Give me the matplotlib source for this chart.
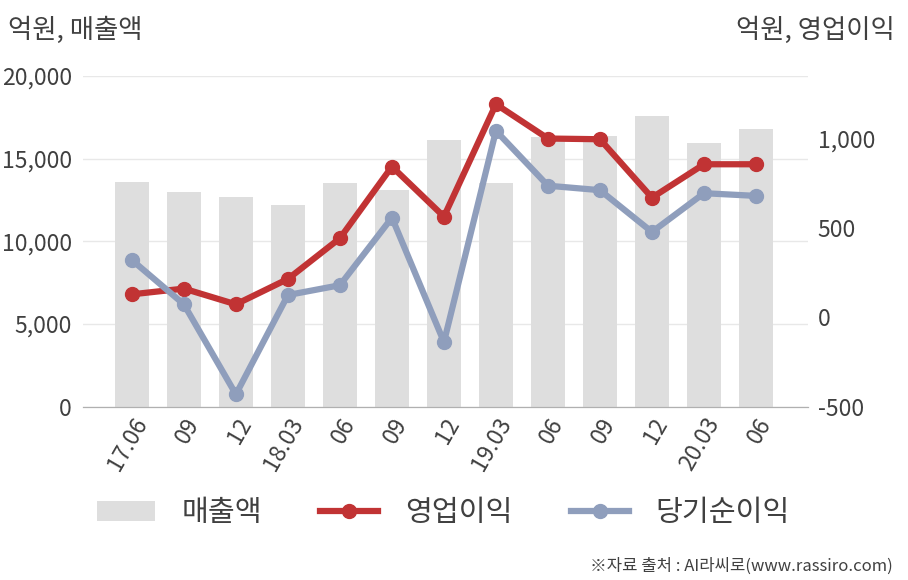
import matplotlib
matplotlib.use("Agg")
import matplotlib.pyplot as plt
from matplotlib.patches import Patch
from matplotlib.lines import Line2D
from matplotlib.ticker import FuncFormatter

plt.rcParams["font.family"] = ["Noto Sans CJK KR", "DejaVu Sans"]

# quarterly data (억원)
quarters = ["17.06", "09", "12", "18.03", "06", "09", "12",
            "19.03", "06", "09", "12", "20.03", "06"]
revenue = [13570, 12990, 12680, 12200, 13530, 13100, 16130,
           13530, 16290, 16370, 17580, 15950, 16790]
op_profit = [129, 161, 73, 215, 443, 844, 564,
             1193, 1001, 997, 670, 857, 857]
net_income = [321, 73, -431, 125, 180, 558, -138,
              1044, 737, 712, 478, 695, 680]

BAR_C = "#dedede"
RED = "#c13334"
BLUE = "#8f9ebc"
TXT = "#404040"

fig = plt.figure(figsize=(9.08, 5.8), dpi=100)
ax = fig.add_axes([83 / 908, 173.3 / 580, 725 / 908, 330.7 / 580])
ax2 = ax.twinx()

x = list(range(len(quarters)))
ax.bar(x, revenue, width=0.65, color=BAR_C, zorder=2)
ax.set_ylim(0, 20000)
ax.set_yticks([0, 5000, 10000, 15000, 20000])
ax.yaxis.set_major_formatter(FuncFormatter(lambda v, p: f"{int(v):,}"))
ax.grid(axis="y", color="#e8e8e8", linewidth=1, zorder=0)
ax.set_axisbelow(True)
ax.set_xlim(-0.94, 13.0)
ax.set_xticks(x)
ax.set_xticklabels(quarters, rotation=60, ha="right", rotation_mode="anchor")

ax2.plot(x, op_profit, color=RED, linewidth=4.5, marker="o", markersize=10, zorder=3)
ax2.plot(x, net_income, color=BLUE, linewidth=4.5, marker="o", markersize=10, zorder=3)
ax2.set_ylim(-500, 1351)
ax2.set_yticks([-500, 0, 500, 1000])
ax2.yaxis.set_major_formatter(FuncFormatter(lambda v, p: f"{int(v):,}"))

for a in (ax, ax2):
    for s in ("top", "left", "right"):
        a.spines[s].set_visible(False)
    a.spines["bottom"].set_color("#b0b0b0")
    a.tick_params(length=0, labelsize=16.5, labelcolor=TXT)
ax.tick_params(axis="y", pad=8)
ax.tick_params(axis="x", pad=5)
ax2.tick_params(axis="y", pad=7)

fig.text(8 / 908, 1 - 30 / 580, "억원, 매출액", fontsize=19, color=TXT, va="center", ha="left")
fig.text(895 / 908, 1 - 30 / 580, "억원, 영업이익", fontsize=19, color=TXT, va="center", ha="right")

handles = [
    Patch(facecolor=BAR_C, edgecolor="none"),
    Line2D([0], [0], color=RED, linewidth=4.5, marker="o", markersize=10),
    Line2D([0], [0], color=BLUE, linewidth=4.5, marker="o", markersize=10),
]
fig.legend(handles, ["매출액", "영업이익", "당기순이익"], loc="center",
           bbox_to_anchor=(443 / 908, 1 - 513 / 580), ncol=3, frameon=False,
           fontsize=21, handlelength=2.0, handletextpad=0.9, columnspacing=2.0,
           labelcolor=TXT)

fig.text(893 / 908, 1 - 566 / 580, "※자료 출처 : AI라씨로(www.rassiro.com)",
         fontsize=12, color=TXT, ha="right", va="center")

fig.savefig("out.png", dpi=100)
